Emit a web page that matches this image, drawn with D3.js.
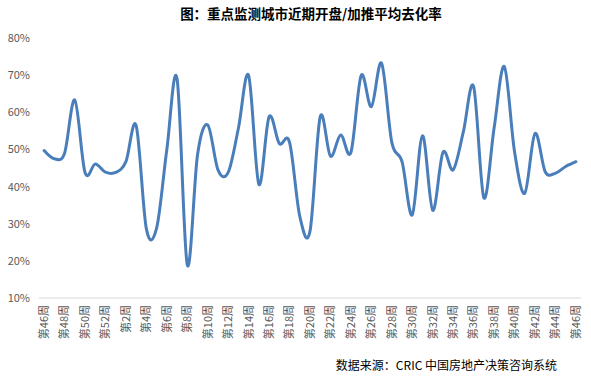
<!DOCTYPE html>
<html>
<head>
<meta charset="utf-8">
<script src="https://cdn.jsdelivr.net/npm/d3@7"></script>
<style>
  body { margin: 0; background: #fff; }
  text { font-family: "Noto Sans CJK SC", "Noto Sans", sans-serif; }
</style>
</head>
<body>
<div id="chart"></div>
<script>
// weeks: 46..52 of last year, then 1..46
var weeks = [46, 47, 48, 49, 50, 51, 52,
             1, 2, 3, 4, 5, 6, 7, 8, 9, 10, 11, 12, 13, 14, 15, 16, 17, 18, 19, 20,
             21, 22, 23, 24, 25, 26, 27, 28, 29, 30, 31, 32, 33, 34, 35, 36, 37, 38, 39, 40,
             41, 42, 43, 44, 45, 46];

var rates = [49.7, 47.5, 49.0, 63.3, 43.8, 46.1, 43.9,
             43.8, 46.7, 56.4, 28.6, 28.8, 50.0, 69.0, 18.9, 48.5, 56.6, 44.5, 43.8, 55.7, 69.9,
             40.6, 58.8, 51.6, 51.9, 32.0, 28.0, 58.8, 48.2, 53.9, 49.2, 69.9, 61.5, 73.2, 51.9, 46.7, 32.4,
             53.7, 33.6, 49.2, 44.5, 54.8, 66.9, 37.0, 55.7, 72.3, 49.4, 38.2, 54.3, 44.0, 43.6, 45.4, 46.7];

var yTicks = [10, 20, 30, 40, 50, 60, 70, 80];

var title = "图：重点监测城市近期开盘/加推平均去化率";
var source = "数据来源：CRIC 中国房地产决策咨询系统";

var W = 591, H = 377;
var margin = {top: 38, right: 10, bottom: 79, left: 39},
    width = W - margin.left - margin.right,
    height = H - margin.top - margin.bottom;

var idx = weeks.map(function(d, i) { return i; });

var xScale = d3.scaleBand().domain(idx).range([0, width]),
    yScale = d3.scaleLinear().domain([10, 80]).range([height, 0]);

var svg = d3.select("#chart").append("svg")
    .attr("width", W)
    .attr("height", H);

svg.append("text")
    .attr("x", 311)
    .attr("y", 19)
    .attr("text-anchor", "middle")
    .attr("font-size", "13.5px")
    .attr("font-weight", "bold")
    .attr("fill", "#000")
    .text(title);

var g = svg.append("g")
    .attr("transform", "translate(" + margin.left + "," + margin.top + ")");

// baseline only
g.append("line")
    .attr("x1", 0).attr("x2", width)
    .attr("y1", yScale(10)).attr("y2", yScale(10))
    .attr("stroke", "#d9d9d9")
    .attr("stroke-width", 1);

var yAxis = d3.axisLeft(yScale)
    .tickValues(yTicks)
    .tickSize(0)
    .tickPadding(9)
    .tickFormat(function(d) { return d + "%"; });

g.append("g")
    .attr("class", "y axis")
    .call(yAxis)
    .call(function(s) { s.select(".domain").remove(); })
    .selectAll("text")
    .attr("font-size", "11px")
    .attr("fill", "#595959");

// x labels every other week, rotated
var xAxis = d3.axisBottom(xScale)
    .tickValues(idx.filter(function(i) { return i % 2 === 0; }))
    .tickSize(0)
    .tickFormat(function(i) { return "第" + weeks[i] + "周"; });

g.append("g")
    .attr("class", "x axis")
    .attr("transform", "translate(0," + height + ")")
    .call(xAxis)
    .call(function(s) { s.select(".domain").remove(); })
    .selectAll("text")
    .attr("font-size", "11px")
    .attr("fill", "#595959")
    .attr("text-anchor", "end")
    .attr("dy", "0.35em")
    .attr("transform", "translate(0,7) rotate(-90)")
    .attr("x", 0)
    .attr("y", 0);

var line = d3.line()
    .x(function(d, i) { return xScale(i) + xScale.bandwidth() / 2; })
    .y(function(d) { return yScale(d); })
    .curve(d3.curveCardinal.tension(0));

g.append("path")
    .datum(rates)
    .attr("fill", "none")
    .attr("stroke", "#4a7ebb")
    .attr("stroke-width", 3)
    .attr("stroke-linejoin", "round")
    .attr("stroke-linecap", "round")
    .attr("d", line);

svg.append("text")
    .attr("x", 557)
    .attr("y", 370)
    .attr("text-anchor", "end")
    .attr("font-size", "12px")
    .attr("fill", "#000")
    .text(source);
</script>
</body>
</html>
